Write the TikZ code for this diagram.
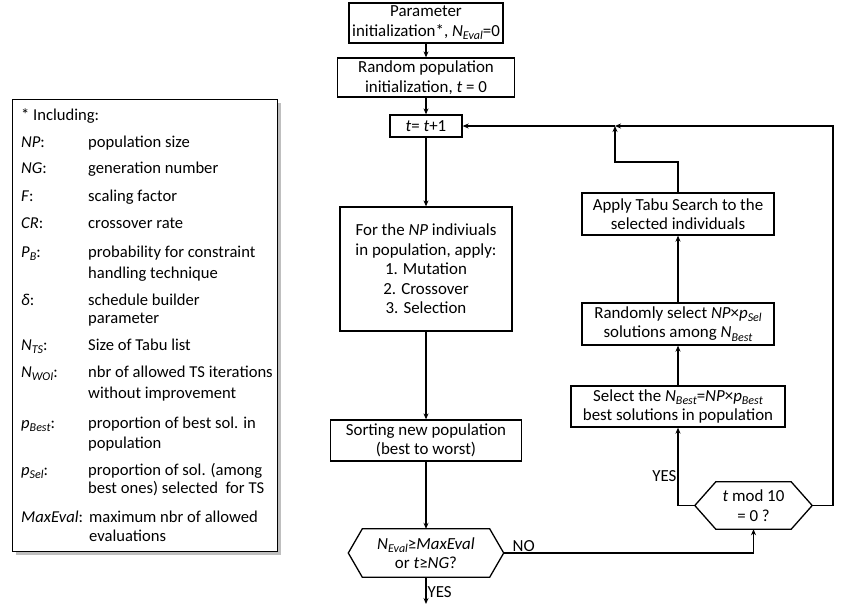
\documentclass[tikz,border=0pt]{standalone}
\usepackage{fontspec}
\setmainfont{Carlito}
\usetikzlibrary{arrows.meta,shadows}
\newcommand\sbi[1]{\raisebox{-0.22em}{\fontsize{12}{12}\selectfont\textit{#1}}}
\tikzset{
  box/.style={draw, line width=1.3pt, fill=white, inner sep=0pt, align=center,
    font=\fontsize{16.9}{19.5}\selectfont},
  hexin/.style={inner sep=0pt, align=center, font=\fontsize{16.9}{19.5}\selectfont},
  hexline/.style={draw, line width=1.3pt},
  conn/.style={line width=1.3pt, -{Stealth[length=6pt,width=5pt]}},
  lab/.style={font=\fontsize{16.9}{19}\selectfont, inner sep=1pt},
  lg/.style={font=\fontsize{16.6}{18}\selectfont, inner sep=0pt, anchor=base west},
}
\begin{document}
\begin{tikzpicture}[x=1pt,y=-1pt]
\useasboundingbox (0,0) rectangle (862,614);

% legend
\node[draw, line width=1pt, fill=white, minimum width=265pt, minimum height=452pt, inner sep=0pt,
  drop shadow={shadow xshift=4pt, shadow yshift=-4pt, fill=black!50}] (leg) at (144.5,325) {};
\node[lg] (l0) at (21,120) {* Including:};
\node[lg] (k1) at (21,147) {\textit{NP}:};
\node[lg] (d1) at (88,147) {population size};
\node[lg] (k2) at (21,173) {\textit{NG}:};
\node[lg] (d2) at (88,173) {generation number};
\node[lg] (k3) at (21,201) {\textit{F}:};
\node[lg] (d3) at (88,201) {scaling factor};
\node[lg] (k4) at (21,228) {\textit{CR}:};
\node[lg] (d4) at (88,228) {crossover rate};
\node[lg] (k5) at (21,257) {\textit{P}\sbi{B}:};
\node[lg] (d5) at (88,257) {probability for constraint};
\node[lg] (d5b) at (88,278) {handling technique};
\node[lg] (k6) at (21,305) {\textit{δ}:};
\node[lg] (d6) at (88,305) {schedule builder};
\node[lg] (d6b) at (88,323) {parameter};
\node[lg] (k7) at (21,350) {\textit{N}\sbi{TS}:};
\node[lg] (d7) at (88,350) {Size of Tabu list};
\node[lg] (k8) at (21,377) {\textit{N}\sbi{WOI}:};
\node[lg] (d8) at (88,377) {nbr of allowed TS iterations};
\node[lg] (d8b) at (88,398) {without improvement};
\node[lg] (k9) at (21,428) {\textit{p}\sbi{Best}:};
\node[lg] (d9) at (88,428) {proportion of best sol. in};
\node[lg] (d9b) at (88,448) {population};
\node[lg] (k10) at (21,475) {\textit{p}\sbi{Sel}:};
\node[lg] (d10) at (88,475) {proportion of sol. (among};
\node[lg] (d10b) at (88,493) {best ones) selected~ for TS};
\node[lg] (k11) at (21,522) {\textit{MaxEval}:};
\node[lg] (d11) at (89,522) {maximum nbr of allowed};
\node[lg] (d11b) at (89,541) {evaluations};

% main column
\node[box, minimum width=154pt, minimum height=40pt] (b1) at (426,23)
  {Parameter\\initialization*, \textit{N}\sbi{Eval}=0};
\node[box, minimum width=177pt, minimum height=39pt] (b2) at (426,77.5)
  {Random population\\initialization, \textit{t} = 0};
\node[box, minimum width=72pt, minimum height=22pt] (b3) at (426,126)
  {\textit{t}= \textit{t}+1};
\node[box, minimum width=172pt, minimum height=124pt] (b4) at (426,269)
  {For the \textit{NP} indiviuals\\in population, apply:\\1. Mutation\\2. Crossover\\3. Selection};
\node[box, minimum width=191pt, minimum height=41pt] (b5) at (426,440.5)
  {Sorting new population\\(best to worst)};
\node[hexin, minimum width=127pt, minimum height=48pt] (h1) at (426,553)
  {\textit{N}\sbi{Eval}≥\textit{MaxEval}\\or \textit{t}≥\textit{NG}?};
\coordinate (h1l) at ([xshift=-14pt]h1.west);
\coordinate (h1r) at ([xshift=14pt]h1.east);
\path[hexline] (h1.north west) -- (h1.north east) -- (h1r) -- (h1.south east)
  -- (h1.south west) -- (h1l) -- cycle;

% right column
\node[box, minimum width=214pt, minimum height=41pt] (sel) at (678,406.5)
  {Select the \textit{N}\sbi{Best}=\textit{NP}×\textit{p}\sbi{Best}\\best solutions in population};
\node[box, minimum width=192pt, minimum height=42pt] (rnd) at (678,324)
  {Randomly select \textit{NP}×\textit{p}\sbi{Sel}\\solutions among \textit{N}\sbi{Best}};
\node[box, minimum width=192pt, minimum height=42pt] (app) at (678,214)
  {Apply Tabu Search to the\\selected individuals};
\node[hexin, minimum width=75pt, minimum height=47pt] (h2) at (753.5,505.5)
  {\textit{t} mod 10\\= 0 ?};
\coordinate (h2l) at ([xshift=-21pt]h2.west);
\coordinate (h2r) at ([xshift=21pt]h2.east);
\path[hexline] (h2.north west) -- (h2.north east) -- (h2r) -- (h2.south east)
  -- (h2.south west) -- (h2l) -- cycle;

% helper coordinates
\coordinate (j) at (615,126);
\coordinate (end) at (426,604);
\coordinate (rc) at (833,505.5);
\coordinate (tc) at (615,162);

% connectors
\draw[conn] (b1) -- (b2);
\draw[conn] (b2) -- (b3);
\draw[conn] (b3) -- (b4);
\draw[conn] (b4) -- (b5);
\draw[conn] (b5) -- (h1);
\draw[conn] (h1.south) -- (end) node[lab, pos=0.55, anchor=west] {YES};
\draw[conn] (h1r) -- (h1r -| h2.south) node[lab, pos=0.08, anchor=south] {NO} -- (h2.south);
\draw[conn] (h2l) -| (sel.south) node[lab, pos=0.69, anchor=east] {YES};
\draw[conn] (sel) -- (rnd);
\draw[conn] (rnd) -- (app);
\draw[conn] (app.north) |- (tc) -- (j);
\draw[conn] (h2r) -- (rc) |- (j);
\draw[conn] (j) -- (b3.east);
\end{tikzpicture}
\end{document}
